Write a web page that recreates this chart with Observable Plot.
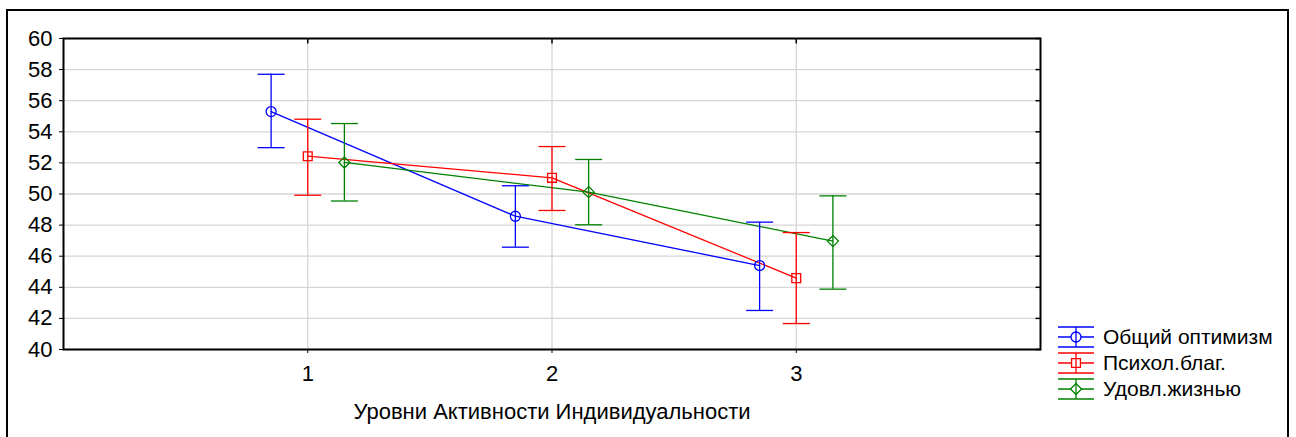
<!DOCTYPE html>
<html>
<head>
<meta charset="utf-8">
<script src="https://cdn.jsdelivr.net/npm/d3@7"></script>
<script src="https://cdn.jsdelivr.net/npm/@observablehq/plot@0.6"></script>
<style>
  html, body { margin: 0; padding: 0; background: #fff; }
  #wrap { position: relative; width: 1296px; height: 437px; overflow: hidden; font-family: Arial, "Liberation Sans", sans-serif; }
  #outer { position: absolute; left: 6px; top: 9px; width: 1279px; height: 460px; border: 2px solid #000; box-sizing: content-box; }
  #chart { position: absolute; left: 0; top: 0; }
  #legend { position: absolute; left: 0; top: 0; }
</style>
</head>
<body>
<div id="wrap">
  <div id="outer"></div>
  <div id="chart"></div>
  <svg id="legend" width="1296" height="437"></svg>
</div>
<script>
// ---- data ----
const levels = [1, 2, 3];
const seriesNames = ["Общий оптимизм", "Психол.благ.", "Удовл.жизнью"];
const optimismMean  = [55.30, 48.57, 45.40];
const optimismLow   = [52.98, 46.58, 42.51];
const optimismHigh  = [57.70, 50.53, 48.19];
const wellbeingMean = [52.43, 51.04, 44.59];
const wellbeingLow  = [49.92, 48.94, 41.67];
const wellbeingHigh = [54.81, 53.05, 47.52];
const lifeMean      = [52.03, 50.12, 46.97];
const lifeLow       = [49.55, 48.02, 43.88];
const lifeHigh      = [54.53, 52.22, 49.88];
const yTicks = [40, 42, 44, 46, 48, 50, 52, 54, 56, 58, 60];
const xLabel = "Уровни Активности Индивидуальности";

// ---- styling ----
const colors = ["#0000ff", "#ff0000", "#008000"];
const symbols = ["circle", "square", "diamond2"];
const dodge = [-0.15, 0, 0.15];

const means = [optimismMean, wellbeingMean, lifeMean];
const lows = [optimismLow, wellbeingLow, lifeLow];
const highs = [optimismHigh, wellbeingHigh, lifeHigh];

const rows = [];
seriesNames.forEach((s, i) => {
  levels.forEach((lv, j) => {
    rows.push({series: s, x: lv + dodge[i], mean: means[i][j], lo: lows[i][j], hi: highs[i][j]});
  });
});

// custom symbols
const capSymbol = {draw(ctx, size) { const r = Math.sqrt(size / Math.PI); ctx.moveTo(-r, 0); ctx.lineTo(r, 0); }};
const tickDown = {draw(ctx, size) { const r = Math.sqrt(size / Math.PI); ctx.moveTo(0, 0); ctx.lineTo(0, r); }};
const tickLeft = {draw(ctx, size) { const r = Math.sqrt(size / Math.PI); ctx.moveTo(0, 0); ctx.lineTo(-r, 0); }};

const FS = 22;
const chart = Plot.plot({
  width: 1296,
  height: 437,
  marginLeft: 63,
  marginRight: 256,
  marginTop: 38,
  marginBottom: 88,
  style: {fontFamily: "Arial, 'Liberation Sans', sans-serif", fontSize: FS + "px", color: "#000", background: "transparent"},
  x: {domain: [0, 4]},
  y: {domain: [40, 60]},
  color: {domain: seriesNames, range: colors},
  symbol: {domain: seriesNames, range: symbols},
  marks: [
    Plot.gridY(yTicks, {stroke: "#d6d6d6", strokeOpacity: 1, strokeWidth: 1.3}),
    Plot.gridX(levels, {stroke: "#d6d6d6", strokeOpacity: 1, strokeWidth: 1.3}),
    Plot.line(rows, {x: "x", y: "mean", z: "series", stroke: "series", strokeWidth: 1.3}),
    Plot.ruleX(rows, {x: "x", y1: "lo", y2: "hi", stroke: "series", strokeWidth: 1.3}),
    Plot.dot(rows, {x: "x", y: "lo", symbol: capSymbol, r: 13.5, stroke: "series", strokeWidth: 1.3, fill: "none"}),
    Plot.dot(rows, {x: "x", y: "hi", symbol: capSymbol, r: 13.5, stroke: "series", strokeWidth: 1.3, fill: "none"}),
    Plot.dot(rows, {x: "x", y: "mean", symbol: "series", r: 5, stroke: "series", strokeWidth: 1.3, fill: "none"}),
    Plot.dot(levels, {x: d => d, y: () => 60, symbol: tickDown, r: 5, stroke: "#000", strokeWidth: 1.5}),
    Plot.dot(yTicks, {x: () => 4, y: d => d, symbol: tickLeft, r: 5, stroke: "#000", strokeWidth: 1.5}),
    Plot.frame({stroke: "#000", strokeWidth: 2}),
    Plot.axisY({ticks: yTicks, tickSize: 4, tickPadding: 7, label: null, tickFormat: d => d, fontSize: FS}),
    Plot.axisX({ticks: levels, tickSize: 4, tickPadding: 12, label: null, tickFormat: d => d, fontSize: FS}),
    Plot.text([xLabel], {frameAnchor: "bottom", dy: 62, text: d => d, fontSize: FS, lineAnchor: "middle", fill: "#000"})
  ]
});
document.getElementById("chart").appendChild(chart);

// ---- legend ----
const leg = d3.select("#legend");
const legY = [337, 363, 389];
const symPaths = [d3.symbolCircle, d3.symbolSquare, d3.symbolDiamond2];
seriesNames.forEach((s, i) => {
  const g = leg.append("g").attr("transform", `translate(0,${legY[i]})`);
  [-10, 0, 10].forEach(dy => g.append("line").attr("x1", 1058).attr("x2", 1094).attr("y1", dy).attr("y2", dy)
    .attr("stroke", colors[i]).attr("stroke-width", 1.3));
  g.append("line").attr("x1", 1076).attr("x2", 1076).attr("y1", -10).attr("y2", 10).attr("stroke", colors[i]).attr("stroke-width", 1.3);
  g.append("path").attr("transform", "translate(1076,0)").attr("d", d3.symbol(symPaths[i], 25 * Math.PI)())
    .attr("fill", "white").attr("stroke", colors[i]).attr("stroke-width", 1.3);
  g.append("line").attr("x1", 1076).attr("x2", 1076).attr("y1", -5).attr("y2", 5).attr("stroke", colors[i]).attr("stroke-width", 1.3);
  g.append("text").attr("x", 1103).attr("y", 0).attr("dy", "0.35em").attr("font-size", 21)
    .attr("font-family", "Arial, 'Liberation Sans', sans-serif").attr("fill", "#000").text(s);
});
</script>
</body>
</html>
